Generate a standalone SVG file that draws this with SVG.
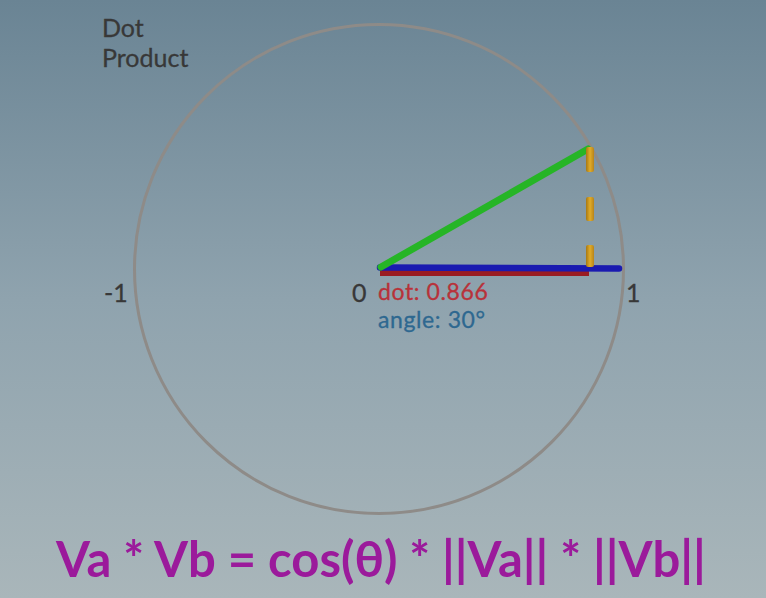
<svg xmlns="http://www.w3.org/2000/svg" width="766" height="598" viewBox="0 0 766 598">
<defs>
<linearGradient id="bg" x1="0" y1="0" x2="0" y2="1">
<stop offset="0" stop-color="#6a8494"/>
<stop offset="0.5" stop-color="#8fa3ae"/>
<stop offset="1" stop-color="#a9b6ba"/>
</linearGradient>
<linearGradient id="gold" x1="0" y1="0" x2="1" y2="0">
<stop offset="0" stop-color="#a87812"/>
<stop offset="0.5" stop-color="#e0ac2a"/>
<stop offset="1" stop-color="#b8841a"/>
</linearGradient>
<style>
.lbl{font-family:Lato,"Liberation Sans",sans-serif;font-size:25px;fill:#383838;stroke:currentColor;stroke-width:0.3}
.ro{font-size:23px;letter-spacing:0.6px}
.vec{fill:none;stroke-linecap:round}
</style>
</defs>
<rect width="766" height="598" fill="url(#bg)"/>
<g id="circle"><circle cx="379" cy="269" r="244.5" fill="none" stroke="#8e8b88" stroke-width="3"/></g>
<g id="title" color="#383838"><text class="lbl" x="102" y="37">Dot</text><text class="lbl" x="102" y="67">Product</text></g>
<g id="connectors">
<line x1="380" y1="273" x2="589" y2="273" stroke="#9a1c22" stroke-width="6"/>
<line class="vec" x1="380" y1="267.5" x2="619" y2="268.5" stroke="#1a1ab0" stroke-width="6.5"/>
<line class="vec" x1="381" y1="267" x2="588" y2="149" stroke="#26b526" stroke-width="7"/>
<g fill="url(#gold)">
<rect x="586" y="147" width="8" height="25" rx="2"/>
<rect x="586" y="197" width="8" height="24" rx="2"/>
<rect x="586" y="245" width="8" height="22" rx="2"/>
</g>
</g>
<g id="axis-labels" color="#383838">
<text class="lbl" x="104" y="302">-1</text>
<text class="lbl" x="352" y="302">0</text>
<text class="lbl" x="626" y="302">1</text>
</g>
<g id="readout">
<text class="lbl ro" x="378" y="300" style="fill:#b8323a;stroke:#b8323a">dot: 0.866</text>
<text class="lbl ro" x="378" y="328" style="fill:#2e6890;stroke:#2e6890">angle: 30°</text>
</g>
<g id="formula"><text x="381" y="577" text-anchor="middle" style="font-family:Lato,'Liberation Sans',sans-serif;font-size:49px;font-weight:bold;fill:#9b1a9b">Va * Vb = cos(θ) * ||Va|| * ||Vb||</text></g>
</svg>
